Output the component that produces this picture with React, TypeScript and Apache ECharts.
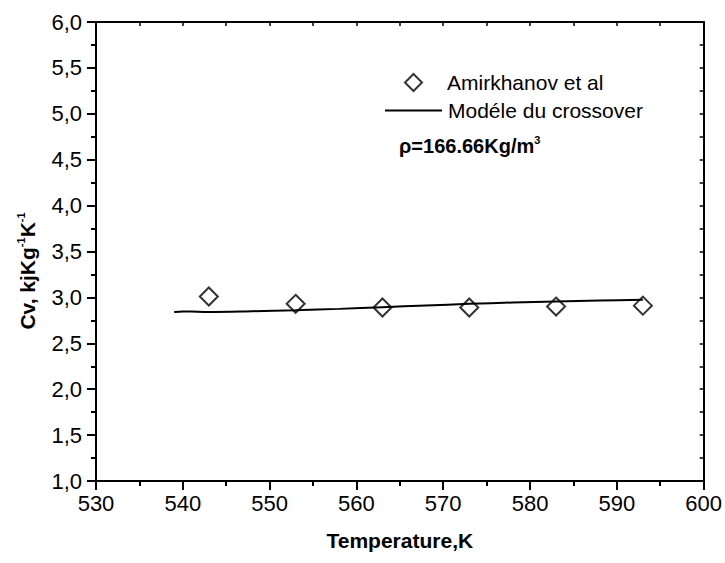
import React, { useEffect, useRef } from "react";
import * as echarts from "echarts";

const expTemps = [543, 553, 563, 573, 583, 593];
const expCv = [3.01, 2.93, 2.89, 2.89, 2.9, 2.91];
const modelTemps = [539, 540, 541, 543, 548, 553, 558, 563, 568, 573, 578, 583, 588, 593];
const modelCv = [2.84, 2.847, 2.846, 2.842, 2.85, 2.86, 2.875, 2.893, 2.912, 2.93, 2.944, 2.956, 2.966, 2.974];
const expName = "Amirkhanov et al";
const modelName = "Modéle du crossover";
const xTitle = "Temperature,K";
const densityText = "ρ=166.66Kg/m";

const FONT = "Liberation Sans, Arial, sans-serif";

export default function App() {
  const ref = useRef<HTMLDivElement>(null);
  useEffect(() => {
    if (!ref.current) return;
    const chart = echarts.init(ref.current, null, { renderer: "svg" });
    const fmt = (v: number) => v.toFixed(1).replace(".", ",");
    chart.setOption({
      animation: false,
      backgroundColor: "#ffffff",
      textStyle: { fontFamily: FONT, color: "#000" },
      grid: { left: 96, right: 21, top: 22, bottom: 82 },
      legend: [
        {
          left: 404,
          top: 72,
          padding: 0,
          selectedMode: false,
          itemWidth: 17,
          itemHeight: 17,
          itemStyle: { borderWidth: 1.3 },
          textStyle: { fontFamily: FONT, fontSize: 21, color: "#000", padding: [0, 0, 0, 20] },
          data: [{ name: expName }],
        },
        {
          left: 384,
          top: 100,
          padding: 0,
          selectedMode: false,
          itemWidth: 57,
          itemHeight: 14,
          textStyle: { fontFamily: FONT, fontSize: 21, color: "#000", padding: [0, 0, 0, 1] },
          data: [{ name: modelName, itemStyle: { opacity: 0 } }],
        },
      ],
      xAxis: [
        {
          type: "value",
          position: "bottom",
          min: 530,
          max: 600,
          interval: 10,
          axisLine: { lineStyle: { color: "#000", width: 2 } },
          axisTick: { show: true, inside: false, length: 9, lineStyle: { color: "#000", width: 2 } },
          minorTick: { show: true, splitNumber: 2, length: 5, lineStyle: { color: "#000", width: 2 } },
          splitLine: { show: false },
          axisLabel: { fontSize: 22, color: "#000", margin: 11, fontFamily: FONT },
          name: xTitle,
          nameLocation: "middle",
          nameGap: 49,
          nameTextStyle: { fontSize: 21, fontWeight: "bold", color: "#000", fontFamily: FONT },
        },
        {
          type: "value",
          position: "top",
          min: 530,
          max: 600,
          interval: 5,
          axisLine: { show: true, lineStyle: { color: "#000", width: 2 } },
          axisTick: { show: true, inside: true, length: 4, lineStyle: { color: "#000", width: 1.5 } },
          axisLabel: { show: false },
          splitLine: { show: false },
        },
      ],
      yAxis: [
        {
          type: "value",
          position: "left",
          min: 1,
          max: 6,
          interval: 0.5,
          axisLine: { show: true, lineStyle: { color: "#000", width: 2 } },
          axisTick: { show: true, inside: false, length: 9, lineStyle: { color: "#000", width: 2 } },
          minorTick: { show: true, splitNumber: 2, length: 5, lineStyle: { color: "#000", width: 2 } },
          splitLine: { show: false },
          axisLabel: { fontSize: 22, color: "#000", margin: 14, formatter: fmt, fontFamily: FONT },
        },
        {
          type: "value",
          position: "right",
          min: 1,
          max: 6,
          interval: 0.25,
          axisLine: { show: true, lineStyle: { color: "#000", width: 2 } },
          axisTick: { show: true, inside: true, length: 4, lineStyle: { color: "#000", width: 1.5 } },
          axisLabel: { show: false },
          splitLine: { show: false },
        },
      ],
      series: [
        {
          name: expName,
          type: "scatter",
          symbol: "emptyDiamond",
          symbolSize: 18,
          itemStyle: { color: "#000", borderColor: "#000", borderWidth: 1.3 },
          data: expTemps.map((t, i) => [t, expCv[i]]),
          z: 2,
        },
        {
          name: modelName,
          type: "line",
          showSymbol: false,
          symbol: "none",
          smooth: 0.3,
          lineStyle: { color: "#000", width: 2 },
          itemStyle: { color: "#000" },
          data: modelTemps.map((t, i) => [t, modelCv[i]]),
          z: 3,
        },
      ],
      graphic: [
        {
          type: "text",
          left: 399,
          top: 134,
          style: {
            text: "{b|" + densityText + "}{s|3}",
            rich: {
              b: { fontSize: 20, fontWeight: "bold", fontFamily: FONT, fill: "#000", lineHeight: 24 },
              s: { fontSize: 11, fontWeight: "bold", fontFamily: FONT, fill: "#000", verticalAlign: "top", lineHeight: 24, padding: [0, 0, 12, 0] },
            },
          },
        },
        {
          type: "text",
          x: 27,
          y: 271,
          rotation: Math.PI / 2,
          style: {
            text: "{b|Cv, kjKg}{s|-1}{b|K}{s|-1}",
            align: "center",
            verticalAlign: "middle",
            rich: {
              b: { fontSize: 21, fontWeight: "bold", fontFamily: FONT, fill: "#000", lineHeight: 24 },
              s: { fontSize: 11, fontWeight: "bold", fontFamily: FONT, fill: "#000", verticalAlign: "top", lineHeight: 24, padding: [0, 0, 12, 0] },
            },
          },
        },
      ],
    });
    return () => chart.dispose();
  }, []);
  return <div ref={ref} style={{ position: "fixed", left: 0, top: 0, width: 725, height: 563 }} />;
}
